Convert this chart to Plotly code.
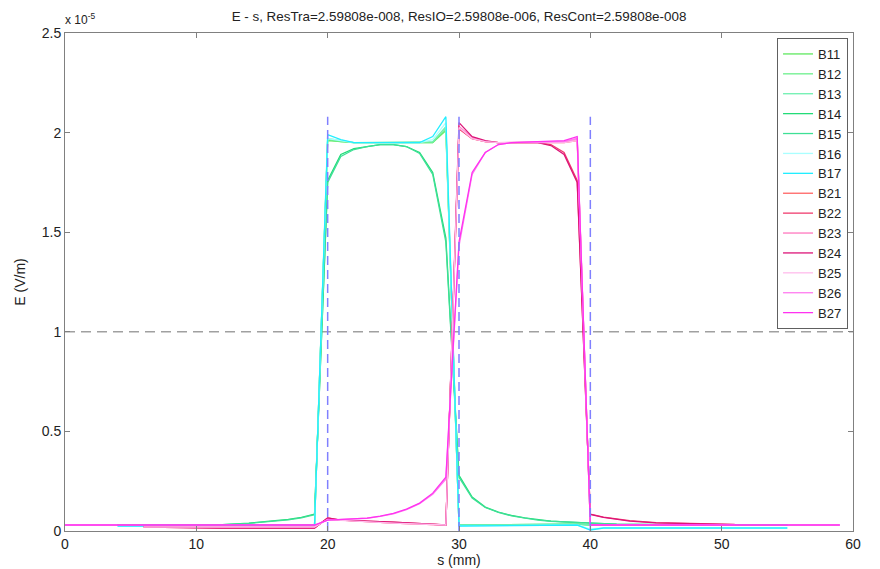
import plotly.graph_objects as go

TITLE = "E - s, ResTra=2.59808e-008, ResIO=2.59808e-006, ResCont=2.59808e-008"
X_LABEL = "s (mm)"
Y_LABEL = "E (V/m)"
EXP_LABEL = "x 10<sup>-5</sup>"

# ---- Group 1 (B1x) ----
s_B11 = [4, 19, 20, 21, 22, 28, 29, 30, 39, 40, 55]
v_B11 = [0.03, 0.03, 1.96, 1.955, 1.95, 1.95, 2.01, 0.03, 0.035, 0.03, 0.03]
s_B12 = [4, 19, 20, 21, 22, 28, 29, 30, 39, 40, 55]
v_B12 = [0.03, 0.03, 1.965, 1.955, 1.95, 1.95, 2.02, 0.03, 0.035, 0.03, 0.03]
s_B13 = [4, 19, 20, 21, 22, 28, 29, 30, 39, 40, 55]
v_B13 = [0.03, 0.03, 1.97, 1.96, 1.95, 1.955, 2.03, 0.03, 0.035, 0.03, 0.03]
s_B14 = [4, 8, 12, 14, 15, 16, 17, 18, 19, 20, 21, 22, 23, 24, 25, 26, 27, 28, 29, 30,
         31, 32, 33, 34, 35, 36, 37, 38, 39, 40, 42, 45, 50, 55]
v_B14 = [0.03, 0.03, 0.032, 0.04, 0.045, 0.05, 0.058, 0.068, 0.085, 1.76, 1.89, 1.92, 1.93,
         1.94, 1.94, 1.93, 1.9, 1.8, 1.47, 0.28, 0.17, 0.12, 0.095, 0.078, 0.066, 0.057,
         0.05, 0.046, 0.043, 0.04, 0.035, 0.032, 0.03, 0.03]
s_B15 = [4, 8, 12, 14, 15, 16, 17, 18, 19, 20, 21, 22, 23, 24, 25, 26, 27, 28, 29, 30,
         31, 32, 33, 34, 35, 36, 37, 38, 39, 40, 42, 45, 50, 55]
v_B15 = [0.03, 0.03, 0.032, 0.038, 0.043, 0.048, 0.056, 0.066, 0.082, 1.75, 1.88, 1.915, 1.93,
         1.94, 1.94, 1.93, 1.895, 1.79, 1.45, 0.27, 0.165, 0.118, 0.093, 0.076, 0.064, 0.055,
         0.049, 0.045, 0.042, 0.04, 0.035, 0.032, 0.03, 0.03]
s_B16 = [4, 19, 20, 21, 22, 27, 28, 29, 30, 39, 40, 41, 55]
v_B16 = [0.025, 0.025, 1.97, 1.96, 1.95, 1.95, 1.965, 2.05, 0.025, 0.03, 0.01, 0.015, 0.015]
s_B17 = [4, 19, 20, 21, 22, 27, 28, 29, 30, 39, 40, 41, 55]
v_B17 = [0.025, 0.025, 1.99, 1.965, 1.95, 1.95, 1.98, 2.08, 0.025, 0.03, 0.005, 0.015, 0.015]

# ---- Group 2 (B2x) ----
s_B21 = [6, 12, 19, 20, 21, 25, 29, 30, 31, 32, 33, 38, 39, 40, 51]
v_B21 = [0.02, 0.02, 0.02, 0.06, 0.055, 0.04, 0.03, 2.02, 1.97, 1.955, 1.95, 1.95, 1.96, 0.03, 0.03]
s_B22 = [6, 12, 19, 20, 21, 25, 29, 30, 31, 32, 33, 36, 37, 38, 39, 40, 41, 42, 43, 45, 48, 51]
v_B22 = [0.02, 0.015, 0.015, 0.065, 0.055, 0.045, 0.03, 2.02, 1.97, 1.955, 1.95, 1.95, 1.94,
         1.9, 1.76, 0.085, 0.07, 0.06, 0.052, 0.042, 0.036, 0.033]
s_B23 = [6, 12, 19, 20, 21, 25, 29, 30, 31, 32, 33, 38, 39, 40, 51]
v_B23 = [0.02, 0.02, 0.02, 0.06, 0.055, 0.04, 0.03, 2.03, 1.975, 1.955, 1.95, 1.955, 1.97, 0.03, 0.03]
s_B24 = [6, 12, 19, 20, 21, 25, 29, 30, 31, 32, 33, 36, 37, 38, 39, 40, 41, 42, 43, 45, 48, 51]
v_B24 = [0.02, 0.015, 0.015, 0.065, 0.055, 0.045, 0.03, 2.05, 1.98, 1.96, 1.95, 1.95, 1.935,
         1.89, 1.75, 0.083, 0.068, 0.058, 0.05, 0.041, 0.035, 0.032]
s_B25 = [6, 12, 19, 20, 21, 25, 29, 30, 31, 32, 33, 38, 39, 40, 51]
v_B25 = [0.02, 0.02, 0.02, 0.058, 0.053, 0.04, 0.03, 2.025, 1.97, 1.955, 1.95, 1.95, 1.96, 0.03, 0.03]
s_B26 = [0, 19, 20, 21, 22, 23, 24, 25, 26, 27, 28, 29, 30, 31, 32, 33, 34, 38, 39, 40, 59]
v_B26 = [0.03, 0.03, 0.055, 0.057, 0.06, 0.064, 0.073, 0.086, 0.107, 0.137, 0.185, 0.26, 1.43,
         1.79, 1.9, 1.94, 1.95, 1.955, 1.97, 0.03, 0.03]
s_B27 = [0, 19, 20, 21, 22, 23, 24, 25, 26, 27, 28, 29, 30, 31, 32, 33, 34, 38, 39, 40, 59]
v_B27 = [0.03, 0.03, 0.055, 0.058, 0.06, 0.065, 0.075, 0.088, 0.11, 0.14, 0.19, 0.27, 1.45,
         1.8, 1.9, 1.94, 1.95, 1.96, 1.98, 0.03, 0.03]

names = ["B11", "B12", "B13", "B14", "B15", "B16", "B17",
         "B21", "B22", "B23", "B24", "B25", "B26", "B27"]
s_data = [s_B11, s_B12, s_B13, s_B14, s_B15, s_B16, s_B17,
          s_B21, s_B22, s_B23, s_B24, s_B25, s_B26, s_B27]
v_data = [v_B11, v_B12, v_B13, v_B14, v_B15, v_B16, v_B17,
          v_B21, v_B22, v_B23, v_B24, v_B25, v_B26, v_B27]
colors = ["#5fe85f", "#6cf08c", "#6ef0b0", "#22dc78", "#3ee096", "#aaffff", "#22eeff",
          "#ff6464", "#f03c6e", "#ff78be", "#dc1478", "#ffbcec", "#ff7cf0", "#ff32f0"]

# reference lines
bound_s = [20, 30, 40]
bound_top = 2.08
threshold = 1.0
x_range = [0, 60]
y_range = [0, 2.5]

FONT = "Liberation Sans, Arial, sans-serif"

# page body has an 8px default margin; size the figure so the plot area lands right
W, H = 872, 561
ML, MR, MT, MB = 57, 27, 25, 38

fig = go.Figure()

# horizontal threshold
fig.add_trace(go.Scatter(x=x_range, y=[threshold, threshold], mode="lines",
                         line=dict(color="#a0a0a0", width=1.5, dash="10px,6px"),
                         showlegend=False, hoverinfo="skip"))

for n, s, v, c in zip(names, s_data, v_data, colors):
    fig.add_trace(go.Scatter(x=s, y=v, mode="lines", name=n,
                             line=dict(color=c, width=1.3)))

for b in bound_s:
    fig.add_trace(go.Scatter(x=[b, b], y=[0, bound_top], mode="lines",
                             line=dict(color="#8080ff", width=1.5, dash="9px,5px"),
                             showlegend=False, hoverinfo="skip"))

axis_common = dict(showline=True, linecolor="#808080", linewidth=1, mirror="allticks",
                   ticks="inside", ticklen=5, tickcolor="#808080", showgrid=False,
                   zeroline=False, automargin=False,
                   tickfont=dict(family=FONT, size=14, color="#222"))

plot_w = W - ML - MR
fig.update_layout(
    width=W, height=H,
    margin=dict(l=ML, r=MR, t=MT, b=MB, autoexpand=False),
    paper_bgcolor="white", plot_bgcolor="white",
    font=dict(family=FONT, size=14, color="#222"),
    title=dict(text=TITLE, x=(ML + plot_w / 2) / W, xanchor="center", y=1 - 8 / H,
               yanchor="middle", font=dict(size=13.4, color="#222")),
    xaxis=dict(range=x_range, dtick=10, title=dict(text=X_LABEL, standoff=3,
               font=dict(size=14)), **axis_common),
    yaxis=dict(range=y_range, dtick=0.5, title=dict(text=Y_LABEL, standoff=12,
               font=dict(size=14)), **axis_common),
    legend=dict(x=0.9937, xanchor="right", y=0.99, yanchor="top",
                bordercolor="#606060", borderwidth=1, bgcolor="white",
                font=dict(size=13, color="#222"), tracegroupgap=0, itemwidth=30),
    showlegend=True,
)

fig.add_annotation(text=EXP_LABEL, xref="paper", yref="paper", x=0, y=1,
                   xanchor="left", yanchor="bottom", showarrow=False,
                   font=dict(size=12, color="#222"), xshift=-2, yshift=4)

fig.write_html("out.html")
